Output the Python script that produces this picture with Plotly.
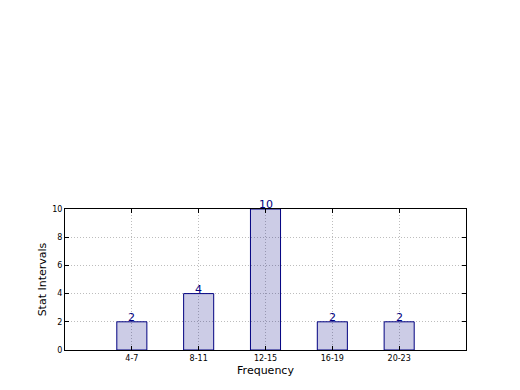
import plotly.graph_objects as go

categories = ["4-7", "8-11", "12-15", "16-19", "20-23"]
values = [2, 4, 10, 2, 2]
positions = list(range(len(categories)))

fig = go.Figure()
fig.add_trace(go.Bar(
    x=positions, y=values, width=0.45,
    marker=dict(color="rgba(0,0,128,0.2)", line=dict(color="#000080", width=1)),
    showlegend=False,
))
for p, v in zip(positions, values):
    fig.add_annotation(x=p, y=v, text=str(v), showarrow=False, yanchor="bottom",
                       yshift=-4, font=dict(color="#000080", size=11, family="DejaVu Sans"))

axis_common = dict(
    showline=True, linecolor="black", linewidth=1, mirror="ticks",
    ticks="inside", ticklen=4, tickcolor="black",
    showgrid=True, gridcolor="#bdbdbd", griddash="1px,2px", gridwidth=1,
    zeroline=False, automargin=False,
    tickfont=dict(size=8, family="DejaVu Sans", color="black"),
)
fig.update_xaxes(range=[-1, 5], tickvals=positions, ticktext=categories,
                 title=dict(text="Frequency", font=dict(size=11, family="DejaVu Sans"), standoff=4),
                 **axis_common)
fig.update_yaxes(range=[0, 10], dtick=2,
                 title=dict(text="Stat Intervals", font=dict(size=11, family="DejaVu Sans"), standoff=3),
                 **axis_common)
fig.update_layout(
    width=520, height=390, margin=dict(l=57, r=62, t=201, b=48),
    paper_bgcolor="white", plot_bgcolor="white",
    font=dict(family="DejaVu Sans", color="black"),
)
fig.write_html("out.html")
